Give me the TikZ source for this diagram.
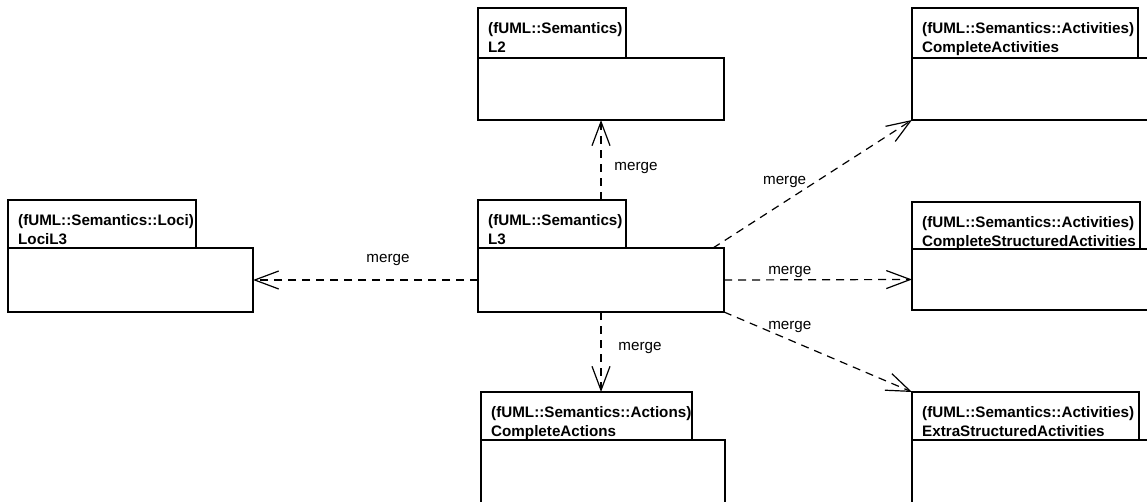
\documentclass[tikz,border=0pt]{standalone}
\usepackage{fontspec}
\setmainfont{Liberation Sans}
\usepackage{tikz}
\usetikzlibrary{arrows.meta,positioning}

\tikzset{
  pkgtab/.style={draw, rectangle, line width=1.6pt, anchor=north west, inner sep=0pt, outer sep=0pt},
  pkgbody/.style={draw, rectangle, line width=1.6pt, anchor=north west, inner sep=0pt, outer sep=0pt},
  pkgname/.style={anchor=north west, inner sep=0pt, align=left, font=\bfseries\fontsize{15.2}{19}\selectfont},
  merge/.style={line width=1.2pt, dash pattern=on 8pt off 6pt,
    -{Straight Barb[length=24pt,width=18pt,line width=1.2pt]}},
  mlabel/.style={inner sep=0pt, font=\fontsize{15.2}{18}\selectfont},
}

\begin{document}
\begin{tikzpicture}[x=1pt,y=-1pt]
\clip (0,0) rectangle (1147,502);

% packages: tab + body
\node[pkgtab, minimum width=188pt, minimum height=48pt] (locitab) at (8,200) {};
\node[pkgbody, minimum width=245pt, minimum height=64pt] (loci) at (8,248) {};

\node[pkgtab, minimum width=148pt, minimum height=50pt] (l2tab) at (478,8) {};
\node[pkgbody, minimum width=246pt, minimum height=62pt] (l2) at (478,58) {};

\node[pkgtab, minimum width=148pt, minimum height=48pt] (l3tab) at (478,200) {};
\node[pkgbody, minimum width=246pt, minimum height=64pt] (l3) at (478,248) {};

\node[pkgtab, minimum width=211pt, minimum height=48pt] (acttab) at (481,392) {};
\node[pkgbody, minimum width=244pt, minimum height=80pt] (act) at (481,440) {};

\node[pkgtab, minimum width=226pt, minimum height=50pt] (catab) at (912,8) {};
\node[pkgbody, minimum width=300pt, minimum height=62pt] (ca) at (912,58) {};

\node[pkgtab, minimum width=228pt, minimum height=47pt] (csatab) at (912,202) {};
\node[pkgbody, minimum width=300pt, minimum height=61pt] (csa) at (912,249) {};

\node[pkgtab, minimum width=227pt, minimum height=48pt] (esatab) at (912,392) {};
\node[pkgbody, minimum width=300pt, minimum height=80pt] (esa) at (912,440) {};

% names in the tabs
\begin{scope}
  \clip ([xshift=1pt,yshift=-1pt]locitab.north west) rectangle ([xshift=-2pt,yshift=1pt]locitab.south east);
  \node[pkgname] (lociname) at ([xshift=10pt,yshift=-14pt]locitab.north west) {(fUML::Semantics::Loci)\\LociL3};
\end{scope}
\node[pkgname] (l2name) at ([xshift=10pt,yshift=-14pt]l2tab.north west) {(fUML::Semantics)\\L2};
\node[pkgname] (l3name) at ([xshift=10pt,yshift=-14pt]l3tab.north west) {(fUML::Semantics)\\L3};
\begin{scope}
  \clip ([xshift=1pt,yshift=-1pt]acttab.north west) rectangle ([xshift=-2pt,yshift=1pt]acttab.south east);
  \node[pkgname] (actname) at ([xshift=10pt,yshift=-14pt]acttab.north west) {(fUML::Semantics::Actions)\\CompleteActions};
\end{scope}
\node[pkgname] (caname) at ([xshift=10pt,yshift=-14pt]catab.north west) {(fUML::Semantics::Activities)\\CompleteActivities};
\node[pkgname] (csaname) at ([xshift=10pt,yshift=-14pt]csatab.north west) {(fUML::Semantics::Activities)\\CompleteStructuredActivities};
\node[pkgname] (esaname) at ([xshift=10pt,yshift=-14pt]esatab.north west) {(fUML::Semantics::Activities)\\ExtraStructuredActivities};

% merges
\draw[merge] (l3tab.north -| l2.south) -- (l2.south)
  node[mlabel, pos=0.4, xshift=35pt] (m1) {merge};
\draw[merge] (l3.west) -- (loci.east)
  node[mlabel, pos=0.4, yshift=20pt] (m2) {merge};
\draw[merge] (l3.south) -- (acttab.north -| l3.south)
  node[mlabel, pos=0.45, xshift=39pt] (m3) {merge};
\draw[merge] ([xshift=-11pt]l3.north east) -- (ca.south west)
  node[mlabel, pos=0.36, yshift=20pt] (m4) {merge};
\draw[merge] (l3.east) -- (csa.west)
  node[mlabel, pos=0.35, yshift=8pt] (m5) {merge};
\draw[merge] (l3.south east) -- (esatab.north west)
  node[mlabel, pos=0.35, yshift=13pt] (m6) {merge};
\end{tikzpicture}
\end{document}
